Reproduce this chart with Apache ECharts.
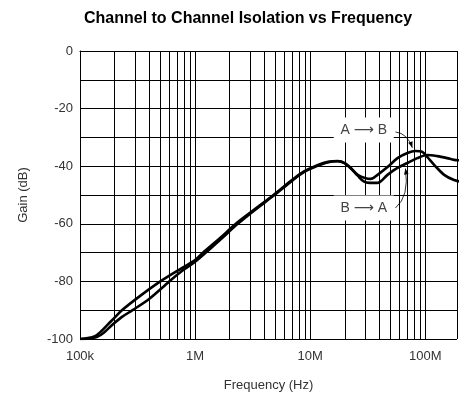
<!DOCTYPE html>
<html>
<head>
<meta charset="utf-8">
<script src="https://cdn.jsdelivr.net/npm/echarts@6/dist/echarts.min.js"></script>
<style>html,body{margin:0;padding:0;background:#fff}#c{width:460px;height:401px}</style>
</head>
<body>
<div id="c"></div>
<script>
// ---- data ----
const freqAB = [1e5, 1.17e5, 1.35e5, 1.52e5, 1.74e5, 2.00e5, 2.30e5, 3.29e5, 4.99e5, 7.73e5, 1.00e6, 1.17e6, 1.64e6, 2.26e6, 3.29e6, 4.80e6, 6.86e6, 8.70e6, 1.17e7, 1.43e7, 1.74e7, 2.00e7, 2.26e7, 2.59e7, 3.04e7, 3.36e7, 3.85e7, 4.70e7, 5.74e7, 7.00e7, 8.20e7, 9.42e7, 1.04e8, 1.20e8, 1.46e8, 1.78e8, 2.08e8];
const gainAB = [-100, -99.7, -99.0, -97.4, -95.0, -92.6, -90.1, -85.2, -80, -75.3, -72.6, -70, -65, -60, -55, -50, -45, -42, -39.6, -38.5, -38.2, -38.9, -40.6, -43, -44.2, -44.4, -43, -40.3, -37.2, -35.4, -34.7, -35, -36.8, -39.6, -43, -44.8, -45.5];
const freqBA = [1e5, 1.22e5, 1.40e5, 1.61e5, 1.89e5, 2.30e5, 2.86e5, 4.01e5, 5.97e5, 7.73e5, 1.00e6, 1.24e6, 1.71e6, 2.35e6, 3.36e6, 4.89e6, 7.00e6, 8.88e6, 1.17e7, 1.43e7, 1.74e7, 2.00e7, 2.26e7, 2.59e7, 2.92e7, 3.29e7, 3.85e7, 4.70e7, 5.74e7, 7.00e7, 8.53e7, 1.04e8, 1.27e8, 1.55e8, 1.78e8, 2.08e8];
const gainBA = [-100, -99.8, -99.3, -97.8, -95.2, -92.4, -90, -86, -80, -76.3, -73.2, -70, -65, -60, -55, -50, -45, -42, -39.8, -38.6, -38.3, -39, -40.8, -43.3, -45.3, -45.8, -45.8, -43, -40.6, -38.9, -37.2, -36.1, -36.5, -37.2, -37.8, -38];
const xTickValues = [1e5, 1e6, 1e7, 1e8];
const xTickText = ['100k', '1M', '10M', '100M'];
const xMinorGrid = [2e5,3e5,4e5,5e5,6e5,7e5,8e5,9e5, 2e6,3e6,4e6,5e6,6e6,7e6,8e6,9e6, 2e7,3e7,4e7,5e7,6e7,7e7,8e7,9e7];
const yTickValues = [0, -20, -40, -60, -80, -100];
const labelAB = 'A \u27F6 B';
const labelBA = 'B \u27F6 A';
// annotation anchors in data space [freq, dB]
const annAB = { text: [2.92e7, -27.4], start: [5.51e7, -28.1], ctrl: [7.0e7, -28.6], tip: [7.73e7, -33.6] };
const annBA = { text: [2.92e7, -54.5], start: [5.51e7, -54.5], ctrl: [7.3e7, -50.5], tip: [6.73e7, -40.8] };

const FONT = '"Liberation Sans", Arial, "DejaVu Sans", sans-serif';
const chart = echarts.init(document.getElementById('c'), null, { renderer: 'canvas' });

function zip(a, b) { return a.map((v, i) => [v, b[i]]); }

const option = {
  animation: false,
  backgroundColor: '#fff',
  title: {
    text: 'Channel to Channel Isolation vs Frequency',
    left: 243, top: 6, textAlign: 'center',
    textStyle: { fontFamily: FONT, fontWeight: 'bold', fontSize: 16, color: '#000' }
  },
  grid: { left: 80, right: 0, top: 51, bottom: 62, containLabel: false },
  xAxis: {
    type: 'log', logBase: 10, min: 1e5, max: 1.888e8,
    name: 'Frequency (Hz)', nameLocation: 'middle', nameGap: 40,
    nameTextStyle: { fontFamily: FONT, fontSize: 13, color: '#333' },
    axisLine: { show: true, lineStyle: { color: '#000', width: 1 } },
    axisTick: { show: false },
    axisLabel: {
      fontFamily: FONT, fontSize: 13, color: '#333', margin: 11,
      formatter: v => { const i = xTickValues.findIndex(t => Math.abs(t - v) / t < 1e-6); return i >= 0 ? xTickText[i] : ''; }
    },
    splitLine: { show: true, lineStyle: { color: '#000', width: 1 } },
    minorTick: { show: false }, minorSplitLine: { show: false }
  },
  yAxis: {
    type: 'value', min: -100, max: 0, interval: 10,
    name: 'Gain (dB)', nameLocation: 'middle', nameGap: 50, nameRotate: 90,
    nameTextStyle: { fontFamily: FONT, fontSize: 13, color: '#333' },
    axisLine: { show: true, lineStyle: { color: '#000', width: 1 } },
    axisTick: { show: false },
    axisLabel: {
      fontFamily: FONT, fontSize: 13, color: '#333', margin: 7,
      formatter: v => yTickValues.indexOf(v) >= 0 ? String(v) : ''
    },
    splitLine: { show: true, lineStyle: { color: '#000', width: 1 } }
  },
  series: [
    {
      name: 'grid', type: 'line', data: [], z: 1, silent: true,
      markLine: {
        silent: true, symbol: ['none', 'none'], animation: false,
        label: { show: false }, emphasis: { disabled: true },
        lineStyle: { color: '#000', width: 1, type: 'solid' },
        data: xMinorGrid.map(v => ({ xAxis: v }))
      }
    },
    {
      name: 'A\u2192B', type: 'line', data: zip(freqAB, gainAB), z: 5,
      showSymbol: false, smooth: 0.3, clip: true,
      lineStyle: { color: '#000', width: 2.6 }
    },
    {
      name: 'B\u2192A', type: 'line', data: zip(freqBA, gainBA), z: 5,
      showSymbol: false, smooth: 0.3, clip: true,
      lineStyle: { color: '#000', width: 2.6 }
    }
  ]
};
chart.setOption(option);

function px(p) { return chart.convertToPixel({ gridIndex: 0 }, p); }
function annGraphics(ann, label) {
  const t = px(ann.text), s = px(ann.start), c = px(ann.ctrl), e = px(ann.tip);
  const ang = Math.atan2(e[1] - c[1], e[0] - c[0]);
  const L = 6, W = 2.3;
  const bx = e[0] - L * Math.cos(ang), by = e[1] - L * Math.sin(ang);
  const nx = -Math.sin(ang) * W, ny = Math.cos(ang) * W;
  return [
    { type: 'rect', z: 100, silent: true, shape: { x: t[0] - 30, y: t[1] - 12.5, width: 60, height: 25 }, style: { fill: '#fff' } },
    { type: 'text', z: 101, silent: true, x: t[0], y: t[1], style: { text: label, fill: '#444', font: '14px ' + FONT, align: 'center', verticalAlign: 'middle' } },
    { type: 'bezierCurve', z: 101, silent: true, shape: { x1: s[0], y1: s[1], x2: e[0], y2: e[1], cpx1: c[0], cpy1: c[1] }, style: { stroke: '#000', lineWidth: 0.8, fill: null } },
    { type: 'polygon', z: 101, silent: true, shape: { points: [[e[0], e[1]], [bx + nx, by + ny], [bx - nx, by - ny]] }, style: { fill: '#000' } }
  ];
}
chart.setOption({ graphic: annGraphics(annAB, labelAB).concat(annGraphics(annBA, labelBA)) });
</script>
</body>
</html>
